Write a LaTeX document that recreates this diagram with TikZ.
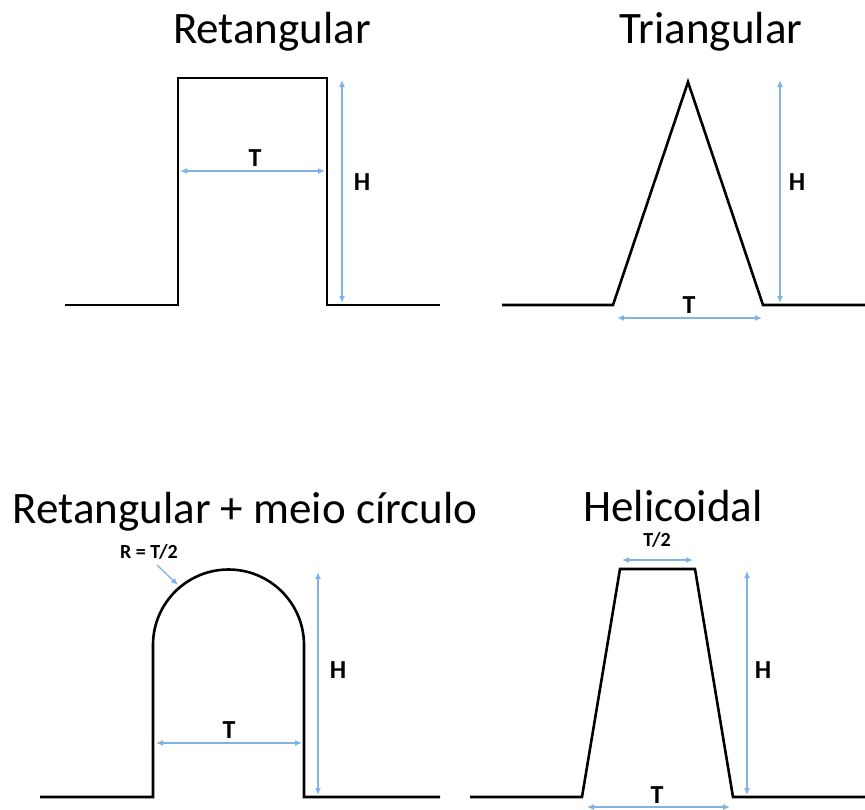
\documentclass[tikz,border=0pt]{standalone}
\usepackage{fontspec}
\setmainfont{Carlito}
\usetikzlibrary{arrows.meta}
\definecolor{dimblue}{HTML}{7FB2E5}
\begin{document}
\begin{tikzpicture}[x=1pt,y=-1pt,
  outline/.style={line width=2.6pt, line join=miter, draw=black},
  dim/.style={draw=dimblue, line width=1.3pt, {Latex[length=7pt,width=6pt]}-{Latex[length=7pt,width=6pt]}},
  lead/.style={draw=dimblue, line width=1.3pt, -{Latex[length=7pt,width=6pt]}},
  title/.style={font=\fontsize{45}{50}\selectfont, inner sep=0pt, anchor=base},
  lbl/.style={font=\bfseries\fontsize{26}{30}\selectfont, inner sep=0pt},
  small/.style={font=\bfseries\fontsize{20}{22}\selectfont, inner sep=0pt}]
\useasboundingbox (0,0) rectangle (865,809);

% titles
\node[title] (t1) at (272,43) {Retangular};
\node[title] (t2) at (711,43) {Triangular};
\node[title] (t3) at (245,523) {Retangular + meio círculo};
\node[title] (t4) at (673,521) {Helicoidal};

% shapes
\draw[outline] (65,305) -- (178,305) -- (178,78) -- (327,78) -- (327,305) -- (440,305);
\draw[outline] (502,305) -- (613,305) -- (688,82) -- (763,305) -- (865,305);
\draw[outline] (40,797) -- (153,797) -- (153,645) arc[start angle=180, end angle=360, radius=75.5] -- (304,797) -- (440,797);
\draw[outline] (470,797) -- (582,797) -- (620,569) -- (695,569) -- (733,797) -- (865,797);

% dimension end points
\coordinate (a1l) at (180,171); \coordinate (a1r) at (325,171);
\coordinate (h1t) at (342,80);  \coordinate (h1b) at (342,303);
\coordinate (h2t) at (780,80);  \coordinate (h2b) at (780,303);
\coordinate (a2l) at (617,318); \coordinate (a2r) at (762,318);
\coordinate (a3l) at (156,743); \coordinate (a3r) at (302,743);
\coordinate (h3t) at (318,572); \coordinate (h3b) at (318,795);
\coordinate (a4l) at (622,560); \coordinate (a4r) at (693,560);
\coordinate (h4t) at (747,571); \coordinate (h4b) at (747,795);
\coordinate (a5l) at (587,807); \coordinate (a5r) at (730,807);
\coordinate (rs) at (157,565);  \coordinate (re) at (178,585);

% dimension lines
\draw[dim] (a1l) -- (a1r);
\draw[dim] (h1t) -- (h1b);
\draw[dim] (h2t) -- (h2b);
\draw[dim] (a2l) -- (a2r);
\draw[dim] (a3l) -- (a3r);
\draw[dim] (h3t) -- (h3b);
\draw[dim] (a4l) -- (a4r);
\draw[dim] (h4t) -- (h4b);
\draw[dim] (a5l) -- (a5r);
\draw[lead] (rs) -- (re);

% labels
\node[lbl] (lT1) at (255,158) {T};
\node[lbl] (lH1) at (362,182) {H};
\node[lbl] (lH2) at (797,182) {H};
\node[lbl] (lT2) at (689,305) {T};
\node[lbl] (lT3) at (229,730) {T};
\node[lbl] (lH3) at (338,670) {H};
\node[small] (lR) at (149,552) {R = T/2};
\node[small] (lT4) at (657,540) {T/2};
\node[lbl] (lH4) at (763,670) {H};
\node[lbl] (lT5) at (657,795) {T};
\end{tikzpicture}
\end{document}
